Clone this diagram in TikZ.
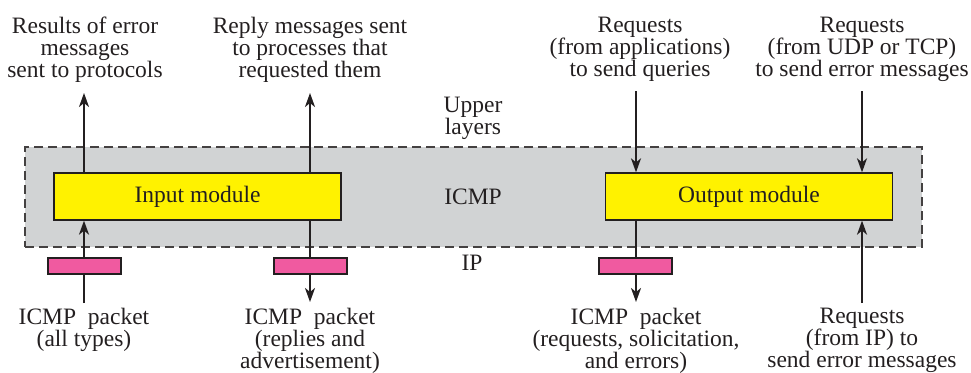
\documentclass[tikz,border=0pt]{standalone}
\usepackage{fontspec}
\setmainfont{Liberation Serif}
\newfontfamily\labelfont{Liberation Serif}
\usetikzlibrary{arrows.meta}
\definecolor{layergray}{RGB}{209,211,212}
\definecolor{modyellow}{RGB}{255,242,0}
\definecolor{bufpink}{RGB}{240,90,160}
\definecolor{inkdark}{RGB}{35,31,32}
\tikzset{
  txt/.style={align=center, inner sep=0pt, font=\labelfont\fontsize{23.5}{22}\selectfont, text=inkdark},
  module/.style={draw=inkdark, line width=1.3pt, fill=modyellow, minimum width=287pt, minimum height=47pt, inner sep=0pt, font=\labelfont\fontsize{23.5}{22}\selectfont, text=inkdark},
  buffer/.style={draw=inkdark, line width=1.1pt, fill=bufpink, minimum width=73pt, minimum height=16pt, inner sep=0pt},
  layer/.style={draw=inkdark!85, dash pattern=on 9pt off 5pt, line width=1.4pt, fill=layergray, minimum width=897pt, minimum height=100pt, inner sep=0pt},
  arr/.style={draw=inkdark, line width=2pt, -{Stealth[length=14pt,width=10pt,inset=4pt]}}
}
\begin{document}
\begin{tikzpicture}[x=1pt,y=-1pt]
\useasboundingbox (0,0) rectangle (971,372);

% ICMP layer
\node[layer] (icmp) at (473.5,197) {};
\node[txt] (icmplbl) at (473,197) {ICMP};
\node[txt, anchor=north] (upper) at (473,96.5) {Upper\\layers};
\node[txt] (iplbl) at (472,263) {IP};

% modules
\node[module] (inmod) at (197.5,196.5) {Input module};
\node[module] (outmod) at (749,196.5) {Output module};

% free ends of the connectors
\coordinate (t1) at (84,93);
\coordinate (t2) at (310,93);
\coordinate (t3) at (636,91);
\coordinate (t4) at (862,91);
\coordinate (b1) at (84,303);
\coordinate (b2) at (310,302);
\coordinate (b3) at (636,302);
\coordinate (b4) at (862,303);

% connectors
\draw[arr] (inmod.north -| t1) -- (t1);
\draw[arr] (inmod.north -| t2) -- (t2);
\draw[arr] (t3) -- (outmod.north -| t3);
\draw[arr] (t4) -- (outmod.north -| t4);
\draw[arr] (b1) -- (inmod.south -| b1);
\draw[arr] (inmod.south -| b2) -- (b2);
\draw[arr] (outmod.south -| b3) -- (b3);
\draw[arr] (b4) -- (outmod.south -| b4);

% IP buffers
\node[buffer] (buf1) at (84.5,266) {};
\node[buffer] (buf2) at (310.5,266) {};
\node[buffer] (buf3) at (635.5,266) {};

% upper-layer labels
\node[txt, anchor=north] (r1) at (85,16.5) {Results of error\\messages\\sent to protocols};
\node[txt, anchor=north] (r2) at (310,16.5) {Reply messages sent\\to processes that\\requested them};
\node[txt, anchor=north] (r3) at (640,16.5) {Requests\\(from applications)\\to send queries};
\node[txt, anchor=north] (r4) at (862,16.5) {Requests\\(from UDP or TCP)\\to send error messages};

% lower-layer labels
\node[txt, anchor=north] (p1) at (84,307.5) {ICMP\ \ packet\\(all types)};
\node[txt, anchor=north] (p2) at (310,307.5) {ICMP\ \ packet\\(replies and\\advertisement)};
\node[txt, anchor=north] (p3) at (636,307.5) {ICMP\ \ packet\\(requests, solicitation,\\and errors)};
\node[txt, anchor=north] (p4) at (862,307.5) {Requests\\(from IP) to\\send error messages};
\end{tikzpicture}
\end{document}
